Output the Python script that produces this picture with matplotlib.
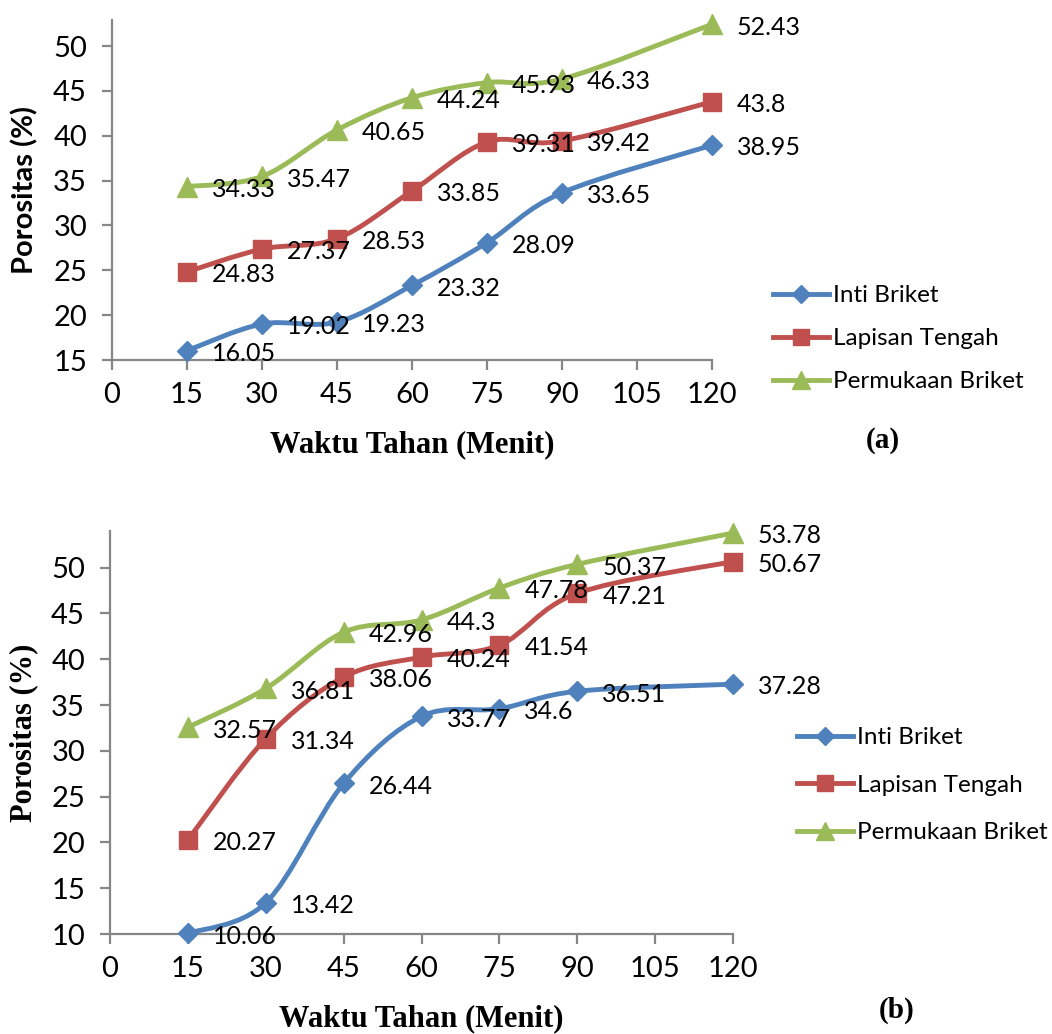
"""Porositas briket vs waktu tahan: two stacked panels (a) and (b)."""
import matplotlib
matplotlib.use("Agg")
import matplotlib.pyplot as plt  # noqa: E402
from matplotlib.path import Path  # noqa: E402
from matplotlib.patches import PathPatch  # noqa: E402
from matplotlib.lines import Line2D  # noqa: E402

# --- data -------------------------------------------------------------
waktu = [15, 30, 45, 60, 75, 90, 120]
x_ticks = [0, 15, 30, 45, 60, 75, 90, 105, 120]
series_names = ["Inti Briket", "Lapisan Tengah", "Permukaan Briket"]

inti_a = [16.05, 19.02, 19.23, 23.32, 28.09, 33.65, 38.95]
lapisan_a = [24.83, 27.37, 28.53, 33.85, 39.31, 39.42, 43.8]
permukaan_a = [34.33, 35.47, 40.65, 44.24, 45.93, 46.33, 52.43]

inti_b = [10.06, 13.42, 26.44, 33.77, 34.6, 36.51, 37.28]
lapisan_b = [20.27, 31.34, 38.06, 40.24, 41.54, 47.21, 50.67]
permukaan_b = [32.57, 36.81, 42.96, 44.3, 47.78, 50.37, 53.78]

yticks_a = [15, 20, 25, 30, 35, 40, 45, 50]
yticks_b = [10, 15, 20, 25, 30, 35, 40, 45, 50]

# --- style ------------------------------------------------------------
COLORS = ["#4F81BD", "#C0504D", "#9BBB59"]
MARKERS = [("D", 10), ("s", 13), ("^", 14)]
GRAY = "#868686"
SANS = "Lato"
SERIF = "Liberation Serif"

plt.rcParams["font.family"] = [SANS, "DejaVu Sans"]


def smooth_path(x, y):
    """Excel-like smoothed line: Catmull-Rom segments as cubic Beziers."""
    n = len(x)
    verts = [(x[0], y[0])]
    codes = [Path.MOVETO]
    for i in range(n - 1):
        a = i - 1 if i > 0 else i
        d = i + 2 if i + 2 < n else i + 1
        c1 = (x[i] + (x[i + 1] - x[a]) / 6, y[i] + (y[i + 1] - y[a]) / 6)
        c2 = (x[i + 1] - (x[d] - x[i]) / 6, y[i + 1] - (y[d] - y[i]) / 6)
        verts += [c1, c2, (x[i + 1], y[i + 1])]
        codes += [Path.CURVE4] * 3
    return Path(verts, codes)


def panel(ax, data, ylim, yticks, ylabel_family, ylabel_size):
    for vals, color, (mk, ms) in zip(data, COLORS, MARKERS):
        ax.add_patch(PathPatch(smooth_path(waktu, vals), facecolor="none",
                               edgecolor=color, lw=3.5, capstyle="round",
                               joinstyle="round", zorder=2, clip_on=False))
        ax.plot(waktu, vals, ls="none", marker=mk, ms=ms, color=color,
                mec=color, zorder=3, clip_on=False)
        for xv, yv in zip(waktu, vals):
            ax.annotate(f"{yv:g}", (xv, yv), xytext=(18, -2),
                        textcoords="offset points", va="center", ha="left",
                        fontsize=18, color="black", zorder=4)
    ax.set_xlim(0, 120)
    ax.set_ylim(*ylim)
    ax.set_xticks(x_ticks)
    ax.set_yticks(yticks)
    for s in ("top", "right"):
        ax.spines[s].set_visible(False)
    for s in ("left", "bottom"):
        ax.spines[s].set_color(GRAY)
        ax.spines[s].set_linewidth(1.6)
    ax.tick_params(direction="out", length=7, width=1.6, color=GRAY,
                   labelsize=21)
    ax.tick_params(axis="y", pad=11)
    ax.tick_params(axis="x", pad=9)
    ax.set_xlabel("Waktu Tahan (Menit)", family=SERIF, fontsize=22,
                  fontweight="bold", labelpad=16)
    ax.set_ylabel("Porositas (%)", family=ylabel_family, fontsize=ylabel_size,
                  fontweight="bold")


fig = plt.figure(figsize=(10.52, 10.34), dpi=100)
ax1 = fig.add_axes([0.1065, 0.6518, 0.5703, 0.3288])
ax2 = fig.add_axes([0.1046, 0.0967, 0.5922, 0.3897])

panel(ax1, [inti_a, lapisan_a, permukaan_a], (15, 52.9), yticks_a,
      [SANS, "DejaVu Sans"], 21)
panel(ax2, [inti_b, lapisan_b, permukaan_b], (10, 54.0), yticks_b,
      SERIF, 22)
ax1.yaxis.set_label_coords(-0.123, 0.5)
ax2.yaxis.set_label_coords(-0.115, 0.5)

handles = [Line2D([], [], color=c, lw=3.5, marker=mk, ms=ms * 0.9, mec=c)
           for c, (mk, ms) in zip(COLORS, MARKERS)]
fig.legend(handles, series_names, loc="upper left",
           bbox_to_anchor=(773 / 1052, 1 - 285 / 1034), frameon=False,
           fontsize=17.5, handlelength=2.3, handletextpad=0.15,
           labelspacing=0.91, borderpad=0, borderaxespad=0)
fig.legend(handles, series_names, loc="upper left",
           bbox_to_anchor=(797 / 1052, 1 - 727 / 1034), frameon=False,
           fontsize=17.5, handlelength=2.3, handletextpad=0.15,
           labelspacing=1.09, borderpad=0, borderaxespad=0)

fig.text(883 / 1052, 1 - 440 / 1034, "(a)", family=SERIF, fontsize=21,
         fontweight="bold", ha="center", va="center")
fig.text(897 / 1052, 1 - 1010 / 1034, "(b)", family=SERIF, fontsize=21,
         fontweight="bold", ha="center", va="center")

fig.savefig("out.png", dpi=100)
